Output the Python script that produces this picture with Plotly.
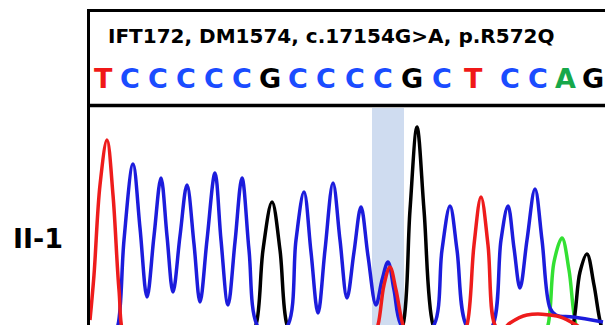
import plotly.graph_objects as go

# ---------------- data (scan position, signal intensity) ----------------
title_text = "IFT172, DM1574, c.17154G>A, p.R572Q"
sample_label = "II-1"

# base calls and their scan positions
calls = ["T", "C", "C", "C", "C", "C", "G", "C", "C", "C", "C", "G", "C", "T", "C", "C", "A", "G"]
call_x = [13, 40, 68, 96, 124, 152, 180, 208, 236, 265, 293, 322, 352, 383, 420, 448, 475, 503]

# variant position highlighted
variant_x = [282, 314]

# C channel (blue)
c_x = [0, 22, 28, 34, 43, 50, 57, 64, 71, 77, 83, 90, 97, 104, 110, 117, 125, 131, 138, 145, 152,
       159, 167, 182, 198, 206, 214, 221, 228, 235, 243, 250, 257, 264, 271, 278, 286, 292, 298,
       304, 311, 327, 344, 352, 360, 367, 376, 390, 403, 411, 418, 424, 430, 437, 445, 452, 460,
       466, 483, 513]
c_y = [0, 0, 75, 500, 880, 560, 215, 520, 810, 520, 240, 520, 775, 480, 190, 500, 835, 500, 175,
       490, 810, 450, 75, 0, 75, 500, 740, 440, 135, 450, 785, 500, 210, 440, 665, 420, 175, 300,
       390, 250, 75, 0, 75, 450, 670, 450, 75, 0, 75, 500, 670, 460, 260, 500, 755, 500, 160, 125,
       115, 90]

# T channel (red)
t_x = [0, 4, 10, 17, 23, 29, 34, 42, 282, 288, 294, 300, 306, 313, 320, 370, 377, 384, 391, 398,
       405, 412, 420, 437, 467, 483, 495, 515]
t_y = [100, 325, 775, 1000, 725, 250, 25, 0, 0, 75, 275, 365, 250, 75, 0, 0, 75, 475, 715, 475,
       75, 50, 85, 125, 120, 85, 50, 40]

# G channel (black)
g_x = [0, 158, 166, 173, 182, 190, 197, 205, 306, 313, 320, 327, 334, 343, 351, 476, 483, 490,
       497, 504, 511, 517]
g_y = [0, 0, 75, 450, 690, 450, 75, 0, 0, 75, 650, 1065, 650, 75, 0, 0, 75, 340, 430, 275, 75, 0]

# A channel (green)
a_x = [0, 451, 458, 464, 472, 479, 486, 493, 515]
a_y = [0, 0, 75, 390, 510, 350, 75, 0, 0]

# ---------------- styling ----------------
W, H = 605, 325
FONT = "DejaVu Sans"
call_colors = {"T": "#f01818", "C": "#1a4cff", "G": "#000000", "A": "#17a84a"}
trace_colors = {"A": "#33e033", "C": "#1c1cdc", "G": "#000000", "T": "#ee1c1c"}

fig = go.Figure()
for base, xs, ys in [("A", a_x, a_y), ("G", g_x, g_y), ("C", c_x, c_y), ("T", t_x, t_y)]:
    fig.add_trace(go.Scatter(x=xs, y=ys, mode="lines",
                             line=dict(color=trace_colors[base], width=3.5, shape="spline", smoothing=1),
                             hoverinfo="skip", showlegend=False))

plot_left = 90 / W
plot_top = 217 / H

# highlight band
fig.add_shape(type="rect", xref="x", yref="paper", x0=variant_x[0], x1=variant_x[1],
              y0=0, y1=plot_top, fillcolor="#cfdcf0", line=dict(width=0), layer="below")

# frame
fig.add_shape(type="line", xref="paper", yref="paper", x0=88.5 / W, x1=88.5 / W,
              y0=-0.02, y1=1 - 9 / H, line=dict(color="black", width=3))
fig.add_shape(type="line", xref="paper", yref="paper", x0=87 / W, x1=1.02,
              y0=1 - 10.5 / H, y1=1 - 10.5 / H, line=dict(color="black", width=3))
fig.add_shape(type="line", xref="paper", yref="paper", x0=87 / W, x1=1.02,
              y0=1 - 105.5 / H, y1=1 - 105.5 / H, line=dict(color="black", width=3.5))

# title
fig.add_annotation(text="<b>" + title_text + "</b>", xref="paper", yref="paper",
                   x=106 / W, y=1 - 36 / H, xanchor="left", yanchor="middle", showarrow=False,
                   font=dict(family=FONT, size=20, color="black"))

# base calls
for b, x in zip(calls, call_x):
    fig.add_annotation(text="<b>" + b + "</b>", xref="x", yref="paper", x=x, y=1 - 78 / H,
                       xanchor="center", yanchor="middle", showarrow=False,
                       font=dict(family=FONT, size=27, color=call_colors[b]))

# sample label
fig.add_annotation(text="<b>" + sample_label + "</b>", xref="paper", yref="paper",
                   x=38.5 / W, y=1 - 238 / H, xanchor="center", yanchor="middle", showarrow=False,
                   font=dict(family=FONT, size=27, color="black"))

fig.update_layout(width=W, height=H, margin=dict(l=0, r=0, t=0, b=0),
                  paper_bgcolor="white", plot_bgcolor="white",
                  xaxis=dict(domain=[plot_left, 1], range=[0, 515], visible=False, fixedrange=True),
                  yaxis=dict(domain=[0, plot_top], range=[75, 1160], visible=False, fixedrange=True))

fig.write_html("out.html")
